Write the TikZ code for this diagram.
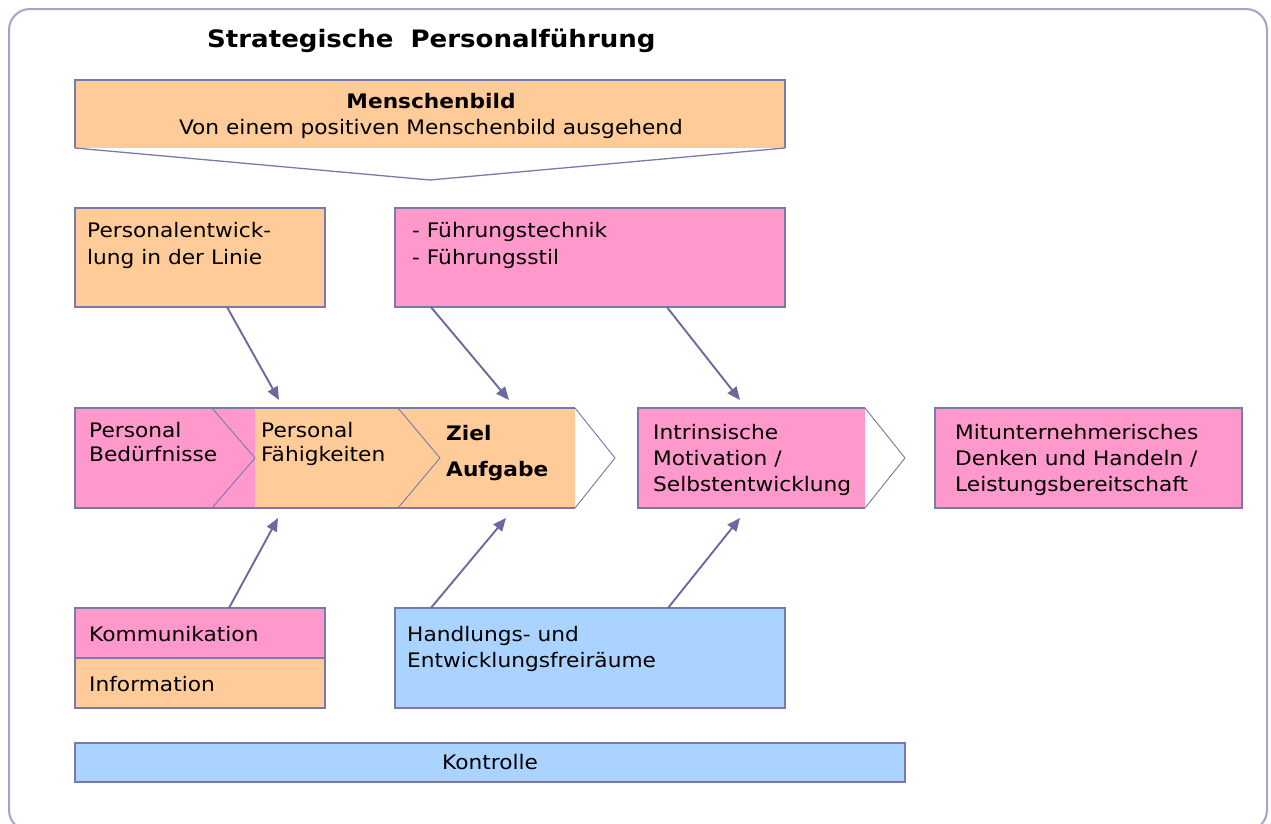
\documentclass[tikz,border=0pt]{standalone}
\usepackage{fontspec}
\setmainfont[FakeStretch=1.085]{DejaVu Sans}
\usetikzlibrary{arrows.meta,calc}
\definecolor{orng}{HTML}{FFCC99}
\definecolor{pnk}{HTML}{FF99CC}
\definecolor{blu}{HTML}{AAD4FF}
\definecolor{edgec}{HTML}{7A7AAA}
\definecolor{arrc}{HTML}{6A6A9E}
\definecolor{framec}{HTML}{A4A4C8}
\begin{document}
\begin{tikzpicture}[x=1pt,y=-1pt,
  fillbox/.style={inner sep=0pt,outer sep=0pt,anchor=north west},
  bord/.style={draw=edgec,line width=1.6pt},
  thinl/.style={draw=edgec,line width=0.9pt},
  tx/.style={anchor=base west,inner sep=0pt,font=\fontsize{20}{24}\selectfont},
  txb/.style={anchor=base west,inner sep=0pt,font=\fontsize{20}{24}\selectfont\bfseries},
  arr/.style={draw=arrc,line width=1.9pt,-{Triangle[length=13pt,width=11pt]}},
]
\useasboundingbox (0,0) rectangle (1271,823);
\fill[white] (0,0) rectangle (1271,823);
\begin{scope}
\clip (0,0) rectangle (1271,823);
\draw[draw=framec,line width=2pt,rounded corners=21pt] (9,9) rectangle (1267,831);
\end{scope}

% title
\node[txb,font=\fontsize{24}{28}\selectfont\bfseries] (title) at (207,47) {Strategische\hspace{17pt}Personalführung};

% Menschenbild
\node[fillbox,fill=orng,minimum width=710pt,minimum height=68pt] (mb) at (75,80) {};
\draw[bord] (mb.south west) -- (mb.north west) -- (mb.north east) -- (mb.south east);
\draw[draw=edgec,line width=1.3pt] (mb.south west) -- ($(mb.south)+(0,32)$) -- (mb.south east);
\node[txb,anchor=base] (mbt) at (431,108) {Menschenbild};
\node[tx,anchor=base] (mbs) at (431,134) {Von einem positiven Menschenbild ausgehend};

% upper boxes
\node[fillbox,bord,fill=orng,minimum width=250pt,minimum height=99pt] (pe) at (75,208) {};
\node[tx] (pe1) at (87,237) {Personalentwick-};
\node[tx] (pe2) at (87,264) {lung in der Linie};
\node[fillbox,bord,fill=pnk,minimum width=390pt,minimum height=99pt] (fu) at (395,208) {};
\node[tx] (fu1) at (412,237) {- Führungstechnik};
\node[tx] (fu2) at (412,264) {- Führungsstil};

% main row
\node[fillbox,fill=pnk,minimum width=180pt,minimum height=100pt] (pb) at (75,408) {};
\node[fillbox,fill=orng,minimum width=320pt,minimum height=100pt] (pf) at (255,408) {};
\draw[bord] (pf.north east) -- (pb.north west) -- (pb.south west) -- (pf.south east);
\draw[thinl] (pf.north east) -- ($(pf.east)+(40,0)$) -- (pf.south east);
\draw[thinl] ($(pb.north west)+(137,0)$) -- (pb.east) -- ($(pb.south west)+(137,0)$);
\draw[thinl] ($(pf.north west)+(143,0)$) -- ($(pf.west)+(185,0)$) -- ($(pf.south west)+(143,0)$);
\node[tx] (pb1) at (89,437) {Personal};
\node[tx] (pb2) at (89,461) {Bedürfnisse};
\node[tx] (pf1) at (261,437) {Personal};
\node[tx] (pf2) at (261,461) {Fähigkeiten};
\node[txb] (za1) at (446,440) {Ziel};
\node[txb] (za2) at (446,476) {Aufgabe};

\node[fillbox,fill=pnk,minimum width=227pt,minimum height=100pt] (im) at (638,408) {};
\draw[bord] (im.north east) -- (im.north west) -- (im.south west) -- (im.south east);
\draw[thinl] (im.north east) -- ($(im.east)+(40,0)$) -- (im.south east);
\node[tx] (im1) at (653,439) {Intrinsische};
\node[tx] (im2) at (653,465) {Motivation /};
\node[tx] (im3) at (653,491) {Selbstentwicklung};

\node[fillbox,bord,fill=pnk,minimum width=307pt,minimum height=100pt] (mu) at (935,408) {};
\node[tx] (mu1) at (955,439) {Mitunternehmerisches};
\node[tx] (mu2) at (955,465) {Denken und Handeln /};
\node[tx] (mu3) at (955,491) {Leistungsbereitschaft};

% lower boxes
\node[fillbox,bord,fill=pnk,minimum width=250pt,minimum height=50pt] (km) at (75,608) {};
\node[fillbox,bord,fill=orng,minimum width=250pt,minimum height=50pt] (inf) at (75,658) {};
\node[tx] (km1) at (89,641) {Kommunikation};
\node[tx] (inf1) at (89,691) {Information};
\node[fillbox,bord,fill=blu,minimum width=390pt,minimum height=100pt] (hf) at (395,608) {};
\node[tx] (hf1) at (407,641) {Handlungs- und};
\node[tx] (hf2) at (407,667) {Entwicklungsfreiräume};

\node[fillbox,bord,fill=blu,minimum width=830pt,minimum height=39pt] (ko) at (75,743) {};
\node[tx,anchor=base] (ko1) at (490,769) {Kontrolle};

% arrow targets
\coordinate (d1) at (279,400);
\coordinate (d2) at (509,400);
\coordinate (d3) at (740,400);
\coordinate (u1) at (278,518);
\coordinate (u2) at (506,518);
\coordinate (u3) at (740,518);

\draw[arr] ($(pe.south west)!0.608!(pe.south east)$) -- (d1);
\draw[arr] ($(fu.south west)!0.092!(fu.south east)$) -- (d2);
\draw[arr] ($(fu.south west)!0.697!(fu.south east)$) -- (d3);
\draw[arr] ($(km.north west)!0.616!(km.north east)$) -- (u1);
\draw[arr] ($(hf.north west)!0.092!(hf.north east)$) -- (u2);
\draw[arr] ($(hf.north west)!0.700!(hf.north east)$) -- (u3);
\end{tikzpicture}
\end{document}
